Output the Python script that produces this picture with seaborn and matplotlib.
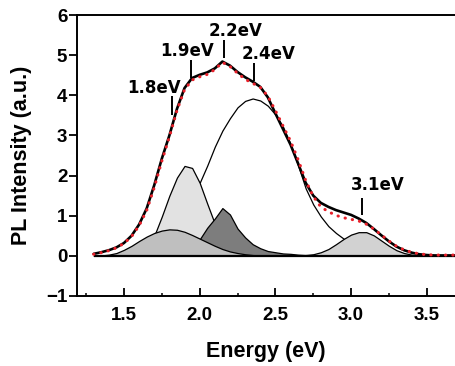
import numpy as np
import matplotlib
matplotlib.use("Agg")
import matplotlib.pyplot as plt
import seaborn as sns

# measured spectrum and fitted envelope (shared energy grid, eV)
energy = [1.30, 1.35, 1.40, 1.45, 1.50, 1.55, 1.60, 1.65, 1.70, 1.75,
          1.80, 1.85, 1.90, 1.95, 2.00, 2.05, 2.10, 2.15, 2.20, 2.25,
          2.30, 2.35, 2.40, 2.45, 2.50, 2.55, 2.60, 2.65, 2.70, 2.75,
          2.80, 2.85, 2.90, 2.95, 3.00, 3.05, 3.10, 3.15, 3.20, 3.25,
          3.30, 3.35, 3.40, 3.45, 3.50, 3.55, 3.60, 3.65, 3.70]
fit_total = [0.05, 0.09, 0.14, 0.21, 0.32, 0.50, 0.78, 1.18, 1.76, 2.42,
             3.00, 3.66, 4.18, 4.43, 4.51, 4.57, 4.67, 4.84, 4.74, 4.58,
             4.45, 4.34, 4.21, 3.95, 3.55, 3.16, 2.77, 2.30, 1.82, 1.50,
             1.32, 1.22, 1.14, 1.08, 1.02, 0.93, 0.82, 0.67, 0.51, 0.36,
             0.23, 0.14, 0.08, 0.04, 0.02, 0.01, 0.01, 0.01, 0.01]
measured = [0.04, 0.08, 0.13, 0.20, 0.31, 0.48, 0.75, 1.13, 1.70, 2.36,
            2.96, 3.62, 4.14, 4.38, 4.46, 4.52, 4.64, 4.82, 4.72, 4.55,
            4.40, 4.30, 4.20, 3.98, 3.62, 3.24, 2.86, 2.40, 1.88, 1.48,
            1.22, 1.10, 1.01, 0.95, 0.91, 0.87, 0.79, 0.67, 0.52, 0.37,
            0.24, 0.15, 0.09, 0.05, 0.03, 0.02, 0.02, 0.02, 0.02]

# fitted components
e_18 = [1.30, 1.35, 1.40, 1.45, 1.50, 1.55, 1.60, 1.65, 1.70, 1.75, 1.80, 1.85,
        1.90, 1.95, 2.00, 2.05, 2.10, 2.15, 2.20, 2.25, 2.30, 2.35, 2.40, 2.50]
i_18 = [0.00, 0.01, 0.03, 0.07, 0.15, 0.25, 0.37, 0.48, 0.57, 0.63, 0.66, 0.65,
        0.60, 0.52, 0.43, 0.34, 0.25, 0.17, 0.11, 0.07, 0.04, 0.02, 0.01, 0.00]

e_19 = [1.50, 1.55, 1.60, 1.65, 1.70, 1.75, 1.80, 1.85, 1.90, 1.95,
        2.00, 2.05, 2.10, 2.15, 2.20, 2.25, 2.30, 2.35, 2.40]
i_19 = [0.00, 0.02, 0.08, 0.22, 0.50, 0.98, 1.50, 1.95, 2.24, 2.19,
        1.82, 1.30, 0.80, 0.44, 0.21, 0.09, 0.03, 0.01, 0.00]

e_22 = [1.80, 1.85, 1.90, 1.95, 2.00, 2.05, 2.10, 2.15, 2.20, 2.25,
        2.30, 2.35, 2.40, 2.45, 2.50, 2.55, 2.60, 2.65, 2.70, 2.80]
i_22 = [0.00, 0.02, 0.06, 0.18, 0.41, 0.70, 0.93, 1.19, 1.03, 0.68,
        0.46, 0.29, 0.19, 0.12, 0.09, 0.06, 0.05, 0.03, 0.02, 0.00]

e_24 = [1.40, 1.50, 1.60, 1.70, 1.80, 1.90, 2.00, 2.05, 2.10, 2.15,
        2.20, 2.25, 2.30, 2.35, 2.40, 2.45, 2.50, 2.55, 2.60, 2.65,
        2.70, 2.75, 2.80, 2.85, 2.90, 2.95, 3.00, 3.10, 3.20, 3.30, 3.40]
i_24 = [0.01, 0.04, 0.11, 0.27, 0.57, 1.08, 1.82, 2.25, 2.72, 3.12,
        3.43, 3.70, 3.86, 3.92, 3.87, 3.74, 3.52, 3.22, 2.78, 2.25,
        1.68, 1.28, 0.98, 0.74, 0.57, 0.43, 0.30, 0.12, 0.04, 0.01, 0.00]

e_31 = [2.65, 2.70, 2.75, 2.80, 2.85, 2.90, 2.95, 3.00, 3.05,
        3.10, 3.15, 3.20, 3.25, 3.30, 3.35, 3.40, 3.45, 3.50]
i_31 = [0.00, 0.02, 0.04, 0.09, 0.17, 0.29, 0.42, 0.53, 0.59,
        0.59, 0.51, 0.38, 0.25, 0.14, 0.07, 0.03, 0.01, 0.00]

# peak markers
peak_text = ["1.8eV", "1.9eV", "2.2eV", "2.4eV", "3.1eV"]
peak_x = [1.82, 1.945, 2.16, 2.36, 3.075]
bar_lo = [3.52, 4.43, 4.93, 4.35, 1.03]
bar_hi = [3.97, 4.88, 5.38, 4.80, 1.45]
text_x = [1.70, 1.917, 2.238, 2.455, 3.175]
text_y = [4.18, 5.11, 5.61, 5.03, 1.76]

sns.set_style("ticks")
plt.rcParams['font.family'] = ['Liberation Sans', 'DejaVu Sans']
plt.rcParams['font.weight'] = 'bold'
plt.rcParams['text.color'] = 'black'
plt.rcParams['axes.labelcolor'] = 'black'
plt.rcParams['xtick.color'] = 'black'
plt.rcParams['ytick.color'] = 'black'

fig = plt.figure(figsize=(4.55, 3.66), dpi=100)
ax = fig.add_axes([77 / 455, 1 - 296 / 366, 378 / 455, 281 / 366])

# components, back to front
comps = [(e_24, i_24, 'white'),
         (e_19, i_19, '#e2e2e2'),
         (e_22, i_22, '#7d7d7d'),
         (e_18, i_18, '#bfbfbf'),
         (e_31, i_31, '#d2d2d2')]
for ex, iy, col in comps:
    ax.fill_between(ex, 0, iy, facecolor=col, edgecolor='black', linewidth=0.9)

ax.hlines(0, energy[0], energy[-1], color='black', linewidth=1.6, zorder=3)

sns.lineplot(x=energy, y=fit_total, color='black', linewidth=1.9, ax=ax, zorder=4)
sns.lineplot(x=energy, y=measured, color='#e8202a', linewidth=2.2,
             linestyle=(0, (0.1, 2.3)), dash_capstyle='round', ax=ax, zorder=5)

ax.vlines(peak_x, bar_lo, bar_hi, color='black', linewidth=1.4, zorder=6)
for t, tx, ty in zip(peak_text, text_x, text_y):
    ax.text(tx, ty, t, ha='center', va='center', fontsize=12, fontweight='bold',
            family=['DejaVu Sans'], color='black', zorder=6)

ax.set_xlim(1.19, 3.686)
ax.set_ylim(-1, 6)
ax.set_xticks([1.5, 2.0, 2.5, 3.0, 3.5])
ax.set_xticklabels(["1.5", "2.0", "2.5", "3.0", "3.5"])
ax.set_xticks([1.25, 1.75, 2.25, 2.75, 3.25], minor=True)
ax.set_yticks([-1, 0, 1, 2, 3, 4, 5, 6])

for s in ['left', 'top', 'bottom']:
    ax.spines[s].set_linewidth(1.4)
    ax.spines[s].set_color('black')
ax.spines['right'].set_visible(False)

ax.tick_params(axis='x', which='major', direction='in', length=5.5, width=1.3,
               pad=8, labelsize=13.5, colors='black')
ax.tick_params(axis='x', which='minor', direction='in', length=2.5, width=1.1,
               colors='black')
ax.tick_params(axis='y', which='major', direction='out', length=5.5, width=1.3,
               pad=1.5, labelsize=13.5, colors='black')

ax.set_xlabel("Energy (eV)", fontsize=15.5, fontweight='bold', labelpad=12)
ax.set_ylabel("PL Intensity (a.u.)", fontsize=15.5, fontweight='bold', labelpad=10)

fig.savefig("out.png", dpi=100)
